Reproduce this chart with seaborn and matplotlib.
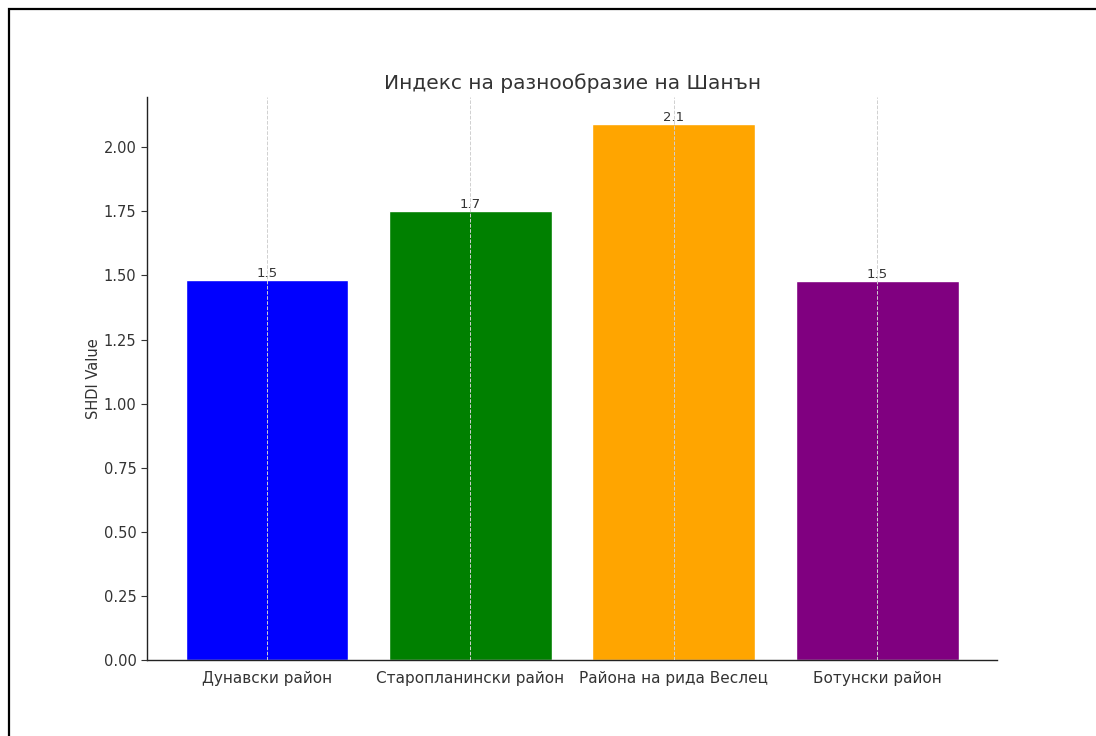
import matplotlib
matplotlib.use("Agg")
import matplotlib.pyplot as plt
import seaborn as sns
import pandas as pd
from matplotlib.patches import Rectangle

categories = ["Дунавски район", "Старопланински район", "Района на рида Веслец", "Ботунски район"]
values = [1.482, 1.7499, 2.09, 1.478]
colors = ["blue", "green", "orange", "purple"]

sns.set_style("white")
plt.rcParams['font.family'] = ['DejaVu Sans']

fig = plt.figure(figsize=(10.96, 7.36), dpi=100)
ax = fig.add_axes([0.134, 0.103, 0.776, 0.765])

df = pd.DataFrame({"region": categories, "value": values})
sns.barplot(data=df, x="region", y="value", hue="region", palette=colors,
            saturation=1, width=0.8, legend=False, ax=ax)

for i, v in enumerate(values):
    ax.text(i, v, f"{v:.1f}", ha="center", va="bottom", fontsize=9.5, color="#333333")

ax.set_title("Индекс на разнообразие на Шанън", fontsize=14.5, color="#333333")
ax.set_ylabel("SHDI Value", fontsize=10.5, color="#333333", labelpad=2)
ax.set_xlabel("")
ax.set_ylim(0, 2.195)
ax.set_xlim(-0.59, 3.59)
ax.set_yticks([0, 0.25, 0.5, 0.75, 1.0, 1.25, 1.5, 1.75, 2.0])
ax.set_yticklabels([f"{t:.2f}" for t in ax.get_yticks()])
ax.tick_params(axis="both", labelsize=10.5, colors="#333333", length=4, left=True, bottom=False)
ax.tick_params(axis="x", labelsize=11)
for s in ["top", "right"]:
    ax.spines[s].set_visible(False)
for s in ["left", "bottom"]:
    ax.spines[s].set_color("#222222")
    ax.spines[s].set_linewidth(1.0)
ax.xaxis.grid(True, linestyle="--", color="#d0d0d0", linewidth=0.7)
ax.yaxis.grid(False)
ax.set_axisbelow(False)

fig.patches.append(Rectangle((9 / 1096, -0.1), 1.2, 1.1 - 9 / 736, transform=fig.transFigure,
                             fill=False, edgecolor="black", linewidth=1.6))

fig.savefig("out.png", dpi=100)
